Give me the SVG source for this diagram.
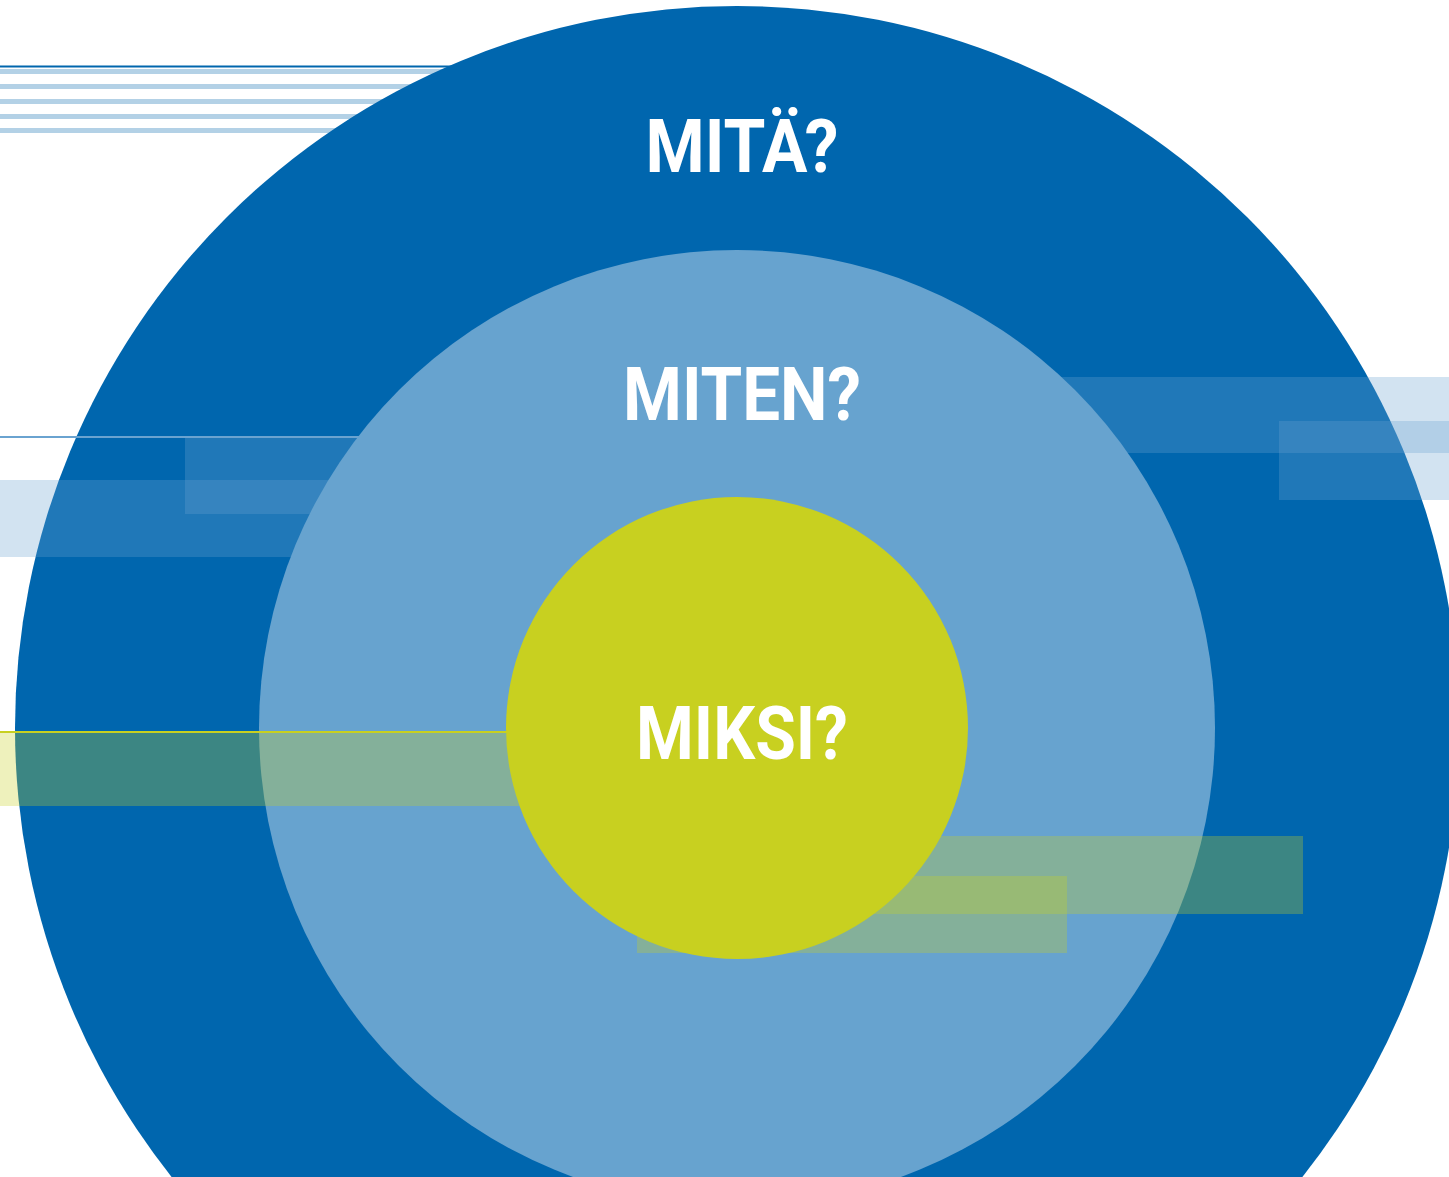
<svg xmlns="http://www.w3.org/2000/svg" width="1449" height="1177" viewBox="0 0 1449 1177">
<style>
.lb{fill:#b3d1e6}
.bt{fill:#6aa3d0;opacity:0.3}
.gt{fill:#c8d020;opacity:0.3}
.lbl{font-family:Roboto,"Liberation Sans",sans-serif;font-weight:700;font-size:74px;fill:#ffffff;text-anchor:middle}
</style>
<rect width="1449" height="1177" fill="#ffffff"/>
<g id="stripes">
<rect x="0" y="65.5" width="500" height="2" fill="#0066ad"/>
<rect class="lb" x="0" y="69" width="500" height="5"/>
<rect class="lb" x="0" y="84" width="500" height="5"/>
<rect class="lb" x="0" y="99" width="500" height="5"/>
<rect class="lb" x="0" y="114" width="500" height="5"/>
<rect class="lb" x="0" y="128" width="500" height="5"/>
</g>
<g id="outer">
<circle cx="737" cy="728" r="722" fill="#0066ae"/>
</g>
<g id="blue-bars">
<rect x="0" y="436" width="500" height="2" fill="#6aa3d0"/>
<rect class="bt" x="185" y="438" width="400" height="76"/>
<rect class="bt" x="0" y="480" width="500" height="77"/>
<rect class="bt" x="900" y="377" width="549" height="76"/>
<rect class="bt" x="1279" y="421" width="170" height="79"/>
</g>
<g id="middle">
<circle cx="737" cy="728" r="478" fill="#67a3cf"/>
</g>
<g id="green-bars">
<rect x="0" y="731" width="560" height="2" fill="#c8d020"/>
<rect class="gt" x="0" y="733" width="560" height="73"/>
<rect class="gt" x="800" y="836" width="503" height="78"/>
<rect class="gt" x="637" y="876" width="430" height="77"/>
</g>
<g id="inner">
<circle cx="737" cy="728" r="231" fill="#c8d020"/>
</g>
<g id="labels">
<text class="lbl" x="742" y="172" textLength="193" lengthAdjust="spacingAndGlyphs">MITÄ?</text>
<text class="lbl" x="742" y="420" textLength="238" lengthAdjust="spacingAndGlyphs">MITEN?</text>
<text class="lbl" x="742" y="759" textLength="212" lengthAdjust="spacingAndGlyphs">MIKSI?</text>
</g>
</svg>
